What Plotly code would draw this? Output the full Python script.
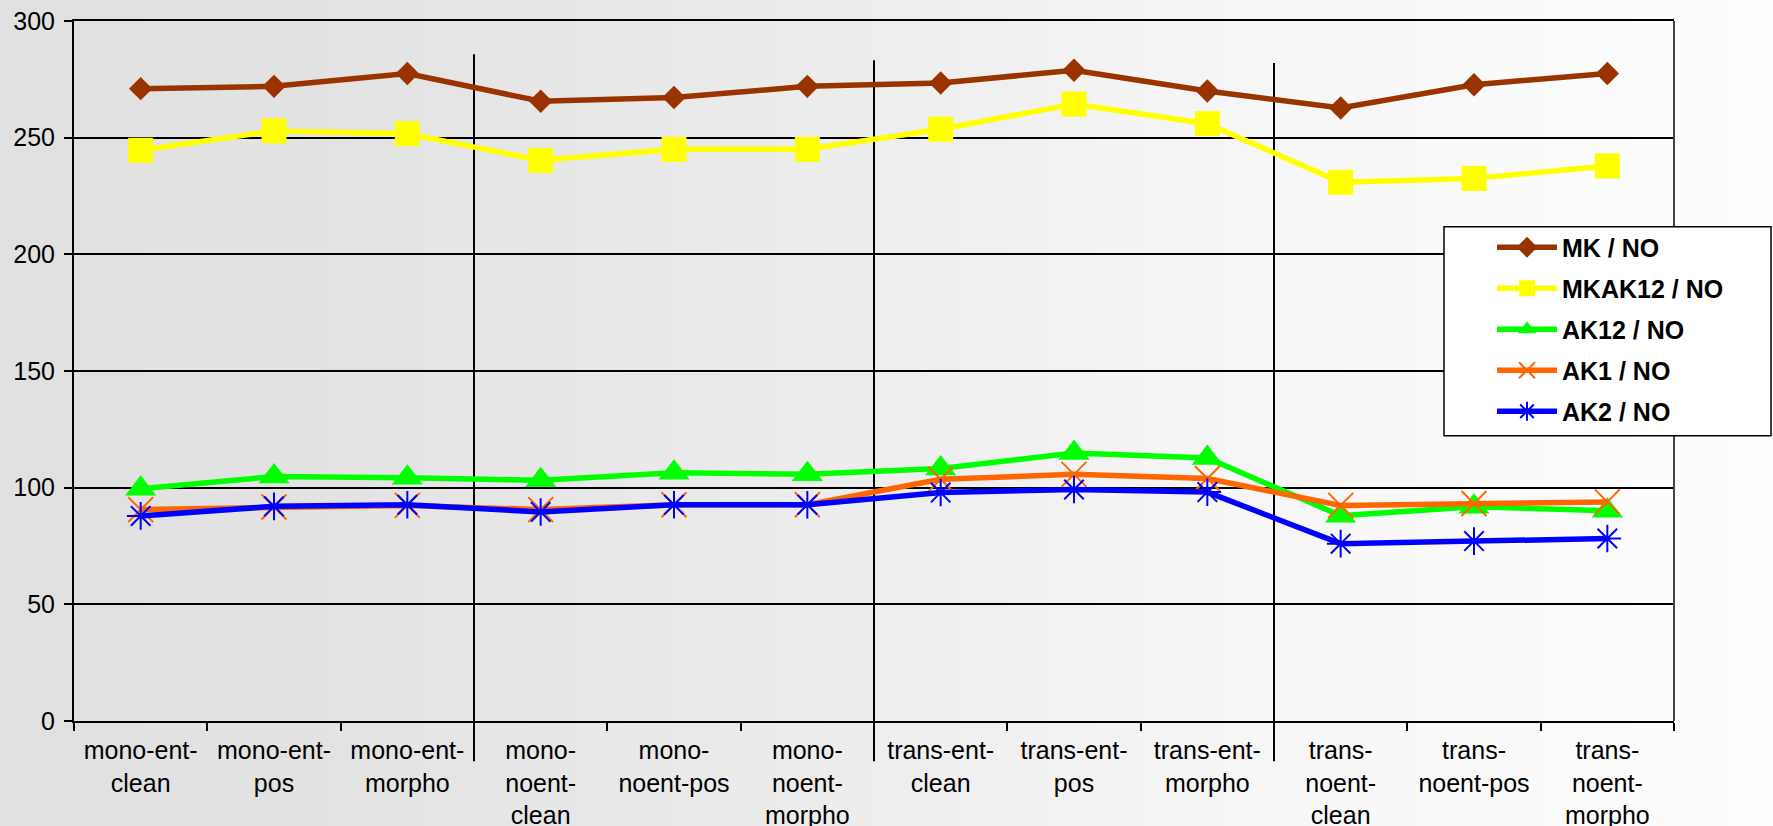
import plotly.graph_objects as go

categories = [
    "mono-ent-<br>clean", "mono-ent-<br>pos", "mono-ent-<br>morpho",
    "mono-<br>noent-<br>clean", "mono-<br>noent-pos", "mono-<br>noent-<br>morpho",
    "trans-ent-<br>clean", "trans-ent-<br>pos", "trans-ent-<br>morpho",
    "trans-<br>noent-<br>clean", "trans-<br>noent-pos", "trans-<br>noent-<br>morpho",
]
mk = [271.0, 272.0, 277.5, 265.6, 267.2, 272.0, 273.4, 278.9, 270.0, 262.7, 272.7, 277.5]
mkak12 = [244.6, 252.9, 251.7, 240.3, 245.0, 245.0, 253.6, 264.4, 256.0, 230.9, 232.5, 237.9]
ak12 = [99.5, 104.8, 104.2, 103.2, 106.4, 105.7, 108.2, 114.9, 112.7, 88.0, 91.8, 90.1]
ak1 = [90.6, 91.7, 92.4, 90.6, 92.7, 92.7, 103.6, 105.7, 103.9, 92.4, 93.2, 93.9]
ak2 = [87.9, 92.0, 92.7, 89.6, 92.7, 92.7, 97.9, 99.2, 98.1, 76.0, 77.1, 78.2]
y_ticks = [0, 50, 100, 150, 200, 250, 300]

W, H = 1773, 826
ML, MR, MT, MB = 74, 99, 21, 105
PW = W - ML - MR
PH = H - MT - MB

series = [
    ("MK / NO", mk, "#993300", dict(symbol="diamond", size=18, color="#993300")),
    ("MKAK12 / NO", mkak12, "#FFFF00", dict(symbol="square", size=25, color="#FFFF00")),
    ("AK12 / NO", ak12, "#00FF00", dict(symbol="triangle-up", size=27, color="#00FF00")),
    ("AK1 / NO", ak1, "#FF6600", dict(symbol="x-thin-open", size=25, color="#FF6600",
                                      line=dict(color="#FF6600", width=2))),
    ("AK2 / NO", ak2, "#0000FF", dict(symbol="asterisk-open", size=23, color="#0000FF",
                                      line=dict(color="#0000FF", width=2))),
]

fig = go.Figure()
for i, (name, vals, col, mk_style) in enumerate(series):
    fig.add_trace(go.Scatter(
        x=categories, y=vals, name=name, mode="lines+markers",
        line=dict(color=col, width=5.5), marker=mk_style,
        legendgroup=f"g{i}",
    ))

shapes = []
# background horizontal gradient
stops = [(0, 225), (300, 226), (600, 232), (900, 238), (1200, 245), (1500, 250), (1773, 253)]
def grey(x):
    for (x0, c0), (x1, c1) in zip(stops[:-1], stops[1:]):
        if x0 <= x <= x1:
            return c0 + (c1 - c0) * (x - x0) / (x1 - x0)
    return stops[-1][1]
step = 12
x = 0
while x < W:
    c = int(round(grey(x + step / 2)))
    shapes.append(dict(type="rect", xref="paper", yref="paper",
                       x0=(x - ML) / PW, x1=(x + step + 1 - ML) / PW,
                       y0=-MB / PH - 0.02, y1=1 + MT / PH + 0.02,
                       fillcolor=f"rgb({c},{c},{c})", line=dict(width=0), layer="below"))
    x += step

# group separators
for bx, top in [(2.5, 0.9524), (5.5, 0.9439), (8.5, 0.94)]:
    shapes.append(dict(type="line", xref="x", yref="paper", x0=bx, x1=bx, y0=-0.0576, y1=top,
                       line=dict(color="black", width=2), layer="between"))

# right frame line
shapes.append(dict(type="line", xref="paper", yref="paper", x0=1, x1=1, y0=0, y1=1,
                   line=dict(color="#444444", width=2), layer="above"))
# legend box
shapes.append(dict(type="rect", xref="paper", yref="paper",
                   x0=(1444 - ML) / PW, x1=(1771 - ML) / PW,
                   y0=(H - MB - 435.7) / PH, y1=(H - MB - 226.7) / PH,
                   fillcolor="white", line=dict(color="black", width=1.5), layer="above"))

fig.update_layout(
    width=W, height=H,
    margin=dict(l=ML, r=MR, t=MT, b=MB, pad=0, autoexpand=False),
    paper_bgcolor="#e6e6e6", plot_bgcolor="rgba(0,0,0,0)",
    font=dict(family="Liberation Sans, Arial, sans-serif", size=25, color="black"),
    showlegend=True,
    legend=dict(
        x=(1492 - ML) / PW, y=(H - MB - 224.5) / PH, xanchor="left", yanchor="top",
        bgcolor="rgba(0,0,0,0)", borderwidth=0,
        font=dict(family="Liberation Sans, Arial, sans-serif", size=25, color="black", weight="bold"),
        traceorder="grouped", tracegroupgap=5.5, itemwidth=60,
    ),
    shapes=shapes,
    xaxis=dict(
        type="category", range=[-0.5, 11.5], tickson="boundaries",
        ticks="outside", ticklen=8, tickwidth=2, tickcolor="black",
        showline=True, linecolor="black", linewidth=2, mirror=True,
        showgrid=False, zeroline=False, automargin=False,
        tickfont=dict(size=25, color="black"), ticklabelstandoff=6,
    ),
    yaxis=dict(
        range=[0, 300], tickvals=y_ticks,
        ticks="outside", ticklen=8, tickwidth=2, tickcolor="black",
        showline=True, linecolor="black", linewidth=2,
        showgrid=True, gridcolor="black", gridwidth=1.5, zeroline=False, automargin=False,
        tickfont=dict(size=25, color="black"), ticklabelstandoff=4,
    ),
)

fig.write_html("out.html")
